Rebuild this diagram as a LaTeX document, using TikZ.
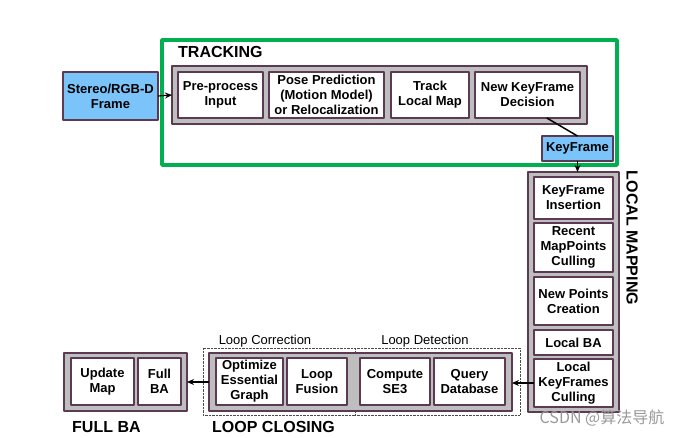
\documentclass[tikz,border=0pt]{standalone}
\usepackage{fontspec}
\setmainfont{Liberation Sans}
\newfontfamily\cjk{Noto Sans CJK SC}
\usetikzlibrary{arrows.meta}
\definecolor{frame}{RGB}{92,58,84}
\definecolor{shade}{RGB}{190,190,190}
\definecolor{skyblue}{RGB}{122,196,250}
\definecolor{trackgreen}{RGB}{0,176,80}
\tikzset{
	block/.style={draw=frame, line width=1.3pt, fill=white, align=center, inner sep=0pt, outer sep=0pt,
		font=\fontsize{13}{15}\selectfont\bfseries},
	group/.style={draw=frame, line width=1.3pt, fill=shade, inner sep=0pt, outer sep=0pt},
	frameblue/.style={block, fill=skyblue},
	title/.style={font=\fontsize{16}{18}\selectfont\bfseries, inner sep=0pt},
	sub/.style={font=\fontsize{13}{15}\selectfont, inner sep=0pt},
}
\begin{document}
\begin{tikzpicture}[x=1pt, y=-1pt, line join=round, >={Stealth[length=7pt,width=6pt]}]
	\useasboundingbox (0,0) rectangle (685,437);
	
	% tracking
	\draw[trackgreen, line width=3.5pt] (162,40) rectangle (617,165);
	\node[title, anchor=west] (trklabel) at (178,52) {TRACKING};
	\node[group, minimum width=415pt, minimum height=58pt] (trk) at (379.5,95) {};
	\node[block, minimum width=85pt, minimum height=46pt] (pre) at (220.5,95) {Pre-process\\Input};
	\node[block, minimum width=115pt, minimum height=46pt] (pose) at (326.5,95) {Pose Prediction\\(Motion Model)\\or Relocalization};
	\node[block, minimum width=78pt, minimum height=46pt] (tlm) at (430,95) {Track\\Local Map};
	\node[block, minimum width=105pt, minimum height=46pt] (newkf) at (527.5,95) {New KeyFrame\\Decision};
	\node[frameblue, minimum width=95pt, minimum height=48pt] (stereo) at (110.5,96) {Stereo/RGB-D\\Frame};
	\node[frameblue, minimum width=71pt, minimum height=25pt] (kf) at (577.5,148.5) {KeyFrame};
	
	% local mapping
	\node[group, minimum width=91pt, minimum height=240pt] (lm) at (573.5,292) {};
	\node[block, minimum width=79pt, minimum height=42pt] (kfi) at (573.5,198) {KeyFrame\\Insertion};
	\node[block, minimum width=79pt, minimum height=49pt] (rmc) at (573.5,247.5) {Recent\\MapPoints\\Culling};
	\node[block, minimum width=79pt, minimum height=48pt] (npc) at (573.5,301) {New Points\\Creation};
	\node[block, minimum width=79pt, minimum height=25pt] (lba) at (573.5,342.5) {Local BA};
	\node[block, minimum width=79pt, minimum height=48pt] (lkc) at (573.5,383) {Local\\KeyFrames\\Culling};
	\node[title, rotate=-90] (lmlabel) at (632,238) {LOCAL MAPPING};
	
	% loop closing
	\draw[densely dotted, black!70] (203,348) rectangle (355,415);
	\draw[densely dotted, black!70] (355,348) rectangle (520,415);
	\node[sub] (corr) at (265,341) {Loop Correction};
	\node[sub] (det) at (425,341) {Loop Detection};
	\node[group, minimum width=303pt, minimum height=58pt] (lc) at (360.5,382) {};
	\node[block, minimum width=67pt, minimum height=47pt] (oeg) at (249.5,381.5) {Optimize\\Essential\\Graph};
	\node[block, minimum width=60pt, minimum height=47pt] (lf) at (317,381.5) {Loop\\Fusion};
	\node[block, minimum width=70pt, minimum height=47pt] (se3) at (395,381.5) {Compute\\SE3};
	\node[block, minimum width=71pt, minimum height=47pt] (qd) at (469.5,381.5) {Query\\Database};
	\node[title, anchor=west] (lclabel) at (212,427) {LOOP CLOSING};
	
	% full BA
	\node[group, minimum width=123pt, minimum height=58pt] (fba) at (125.5,382) {};
	\node[block, minimum width=63pt, minimum height=47pt] (upd) at (102.5,381.5) {Update\\Map};
	\node[block, minimum width=43pt, minimum height=47pt] (full) at (159.5,381.5) {Full\\BA};
	\node[title, anchor=west] (fbalabel) at (72,427) {FULL BA};
	
	% connections
	\draw[->, line width=1.2pt] (stereo.east) -- (trk.west);
	\draw[line width=1.5pt] (newkf.-50) -- (kf.north);
	\draw[->, line width=1.3pt] (kf.south) -- (kf.south |- lm.north);
	\draw[->, line width=1.5pt] (lkc.west) -- (lkc.west -| lc.east);
	\draw[->, line width=1.5pt] (lc.west) -- (fba.east);
	
	\node[font=\cjk\fontsize{16}{18}\selectfont, text=black!40, inner sep=0pt] (mark) at (602,418) {CSDN @算法导航};
\end{tikzpicture}
\end{document}
